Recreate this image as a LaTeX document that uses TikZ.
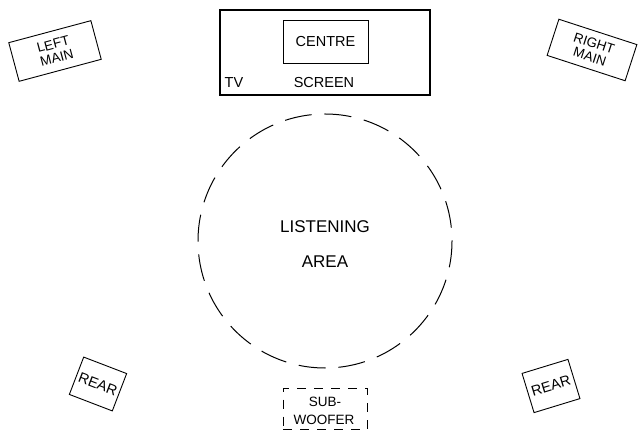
\documentclass[tikz,border=0pt]{standalone}
\usepackage{fontspec}
\setmainfont{Liberation Sans}
\begin{document}
\begin{tikzpicture}[x=1pt,y=1pt,
  spk/.style={draw, line width=0.9pt, inner sep=0pt, align=center, font=\fontsize{13.5}{14}\selectfont},
  lbl/.style={inner sep=0pt, font=\fontsize{14.5}{16}\selectfont},
  big/.style={inner sep=0pt, font=\fontsize{17}{18}\selectfont}]
\useasboundingbox (0,0) rectangle (639,431);
% TV screen
\node[draw, line width=1.1pt, minimum width=210pt, minimum height=85pt, inner sep=0pt] (tv) at (325,378.5) {};
\node[draw, line width=0.9pt, minimum width=85pt, minimum height=43pt, lbl] (centre) at (325.5,389.5) {CENTRE};
\node[lbl] (tvl) at (234,348) {TV};
\node[lbl] (screen) at (324,348) {SCREEN};
% mains
\node[spk, minimum width=85pt, minimum height=40pt, rotate=15] (lmain) at (55,380) {LEFT\\MAIN};
\node[spk, minimum width=82pt, minimum height=38pt, rotate=-18] (rmain) at (592,381) {RIGHT\\MAIN};
% rears
\node[spk, minimum width=46pt, minimum height=40pt, rotate=-21, font=\fontsize{14.5}{15}\selectfont] (lrear) at (98,47) {REAR};
\node[spk, minimum width=48pt, minimum height=41pt, rotate=17, font=\fontsize{14.5}{15}\selectfont] (rrear) at (551,45) {REAR};
% listening area
\coordinate (c) at (325,190);
\draw[line width=1pt, dash pattern=on 27pt off 12.9pt, dash phase=-13.5pt] (325,317) arc[start angle=90, end angle=450, radius=127pt];
\node[big] (listen) at (325,204) {LISTENING};
\node[big] (area) at (325,169) {AREA};
% subwoofer
\node[draw, line width=0.9pt, dash pattern=on 9pt off 8pt, minimum width=84pt, minimum height=41.5pt, inner sep=0pt] (sub) at (325,22.25) {};
\node[inner sep=0pt, font=\fontsize{13.5}{14}\selectfont] (subt) at (325,29) {SUB-};
\node[inner sep=0pt, font=\fontsize{13.5}{14}\selectfont] (woof) at (324,11) {WOOFER};
\end{tikzpicture}
\end{document}
